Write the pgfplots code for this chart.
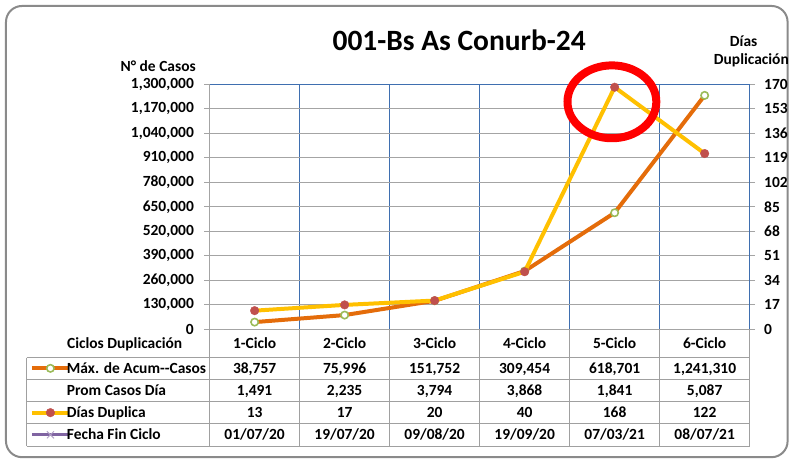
\documentclass[border=0pt]{standalone}
\usepackage{pgfplots}
\pgfplotsset{compat=1.18}
\usepackage{fontspec}
\setmainfont{Carlito}
\definecolor{orangeC}{HTML}{E46C0A}
\definecolor{yellowC}{HTML}{FFC000}
\definecolor{redC}{HTML}{C0504D}
\definecolor{greenC}{HTML}{9BBB59}
\definecolor{purpleC}{HTML}{8064A2}
\definecolor{lpurple}{HTML}{B3A2C7}
\definecolor{gridgray}{HTML}{A4A4A4}
\definecolor{gridblue}{HTML}{3F6FB0}
\definecolor{tablegray}{HTML}{A0A0A0}
\definecolor{framegray}{HTML}{8A8A8A}
\newcommand{\tf}{\bfseries\fontsize{15.5bp}{18bp}\selectfont}
\newcommand{\cellt}[3]{\node[anchor=base, inner sep=0pt, font=\tf] at ({210+90.1667*(#1-0.5)},#2) {#3};}
\begin{document}
\begin{tikzpicture}
\begin{scope}[x=1bp,y=1bp]
\useasboundingbox (0,0) rectangle (791,460);
\draw[framegray, line width=2bp, rounded corners=16bp] (6,2) rectangle (789,454);
\end{scope}

\begin{axis}[
  at={(210bp,130bp)}, anchor=south west,
  scale only axis, width=541bp, height=245.5bp,
  xmin=0.5, xmax=6.5, ymin=0, ymax=1300000,
  clip=false,
  axis line style={draw=none},
  xtick={1.5,2.5,3.5,4.5,5.5}, xticklabels={}, xmajorgrids,
  x grid style={color=gridblue, line width=1.1bp},
  xtick style={draw=none},
  ytick={0,130000,260000,390000,520000,650000,780000,910000,1040000,1170000,1300000},
  ymajorgrids,
  y grid style={color=gridgray, line width=1.1bp},
  ytick pos=left, tick align=outside, major tick length=5.5bp,
  ytick style={color=gridgray, line width=1.1bp},
  scaled y ticks=false,
  /pgf/number format/.cd, fixed, 1000 sep={,}, assume math mode=true, /pgfplots/.cd,
  yticklabel style={font=\tf, xshift=-6.8bp},
  after end axis/.code={
    \draw[gridblue, line width=1.1bp] (rel axis cs:0,1) -- (rel axis cs:1,1) -- (rel axis cs:1,0);
    \draw[gridgray, line width=1.1bp] (rel axis cs:0,0) -- (rel axis cs:0,1);
  },
]
\addplot[color=orangeC, line width=4bp, line join=round, mark=*, mark size=3.7bp,
  mark options={fill=white, draw=greenC, line width=1.6bp}]
  coordinates {(1,38757) (2,75996) (3,151752) (4,309454) (5,618701) (6,1241310)};
\end{axis}

\begin{axis}[
  at={(210bp,130bp)}, anchor=south west,
  scale only axis, width=541bp, height=245.5bp,
  xmin=0.5, xmax=6.5, ymin=0, ymax=170,
  clip=false,
  axis line style={draw=none},
  hide x axis,
  ytick={0,17,...,170},
  ytick pos=right, yticklabel pos=right, tick align=outside, major tick length=5.5bp,
  ytick style={color=gridgray, line width=1.1bp},
  /pgf/number format/assume math mode=true,
  yticklabel style={font=\tf, xshift=5.5bp},
  legend image code/.code={\draw[mark repeat=2,mark phase=2,#1] plot coordinates {(0bp,5bp) (18.5bp,5bp) (37bp,5bp)};},
  legend style={at={(axis description cs:-0.33272,-0.13442)}, anchor=north west, draw=none, fill=none,
    inner sep=0pt, outer sep=0pt, row sep=0pt, column sep=-4bp, font=\tf,
    nodes={inner sep=0pt, text height=11bp, text depth=11.2bp, anchor=base west}},
]
\addlegendimage{color=orangeC, line width=4bp, mark=*, mark size=3.7bp, mark options={fill=white, draw=greenC, line width=1.6bp}}
\addlegendentry{Máx. de Acum-{}-Casos}
\addlegendimage{empty legend}
\addlegendentry{Prom Casos Día}
\addplot[color=yellowC, line width=4bp, line join=round, mark=*, mark size=4.3bp,
  mark options={fill=redC, draw=redC, line width=0.4bp}]
  coordinates {(1,13) (2,17) (3,20) (4,40) (5,168) (6,122)};
\addlegendentry{Días Duplica}
\addlegendimage{color=purpleC, line width=3bp, mark=x, mark size=5bp, mark options={color=lpurple, line width=1bp}}
\addlegendentry{Fecha Fin Ciclo}
\end{axis}

\begin{scope}[x=1bp,y=1bp]
\draw[red, line width=8bp] (613,358) ellipse [x radius=44.5, y radius=36.5];
\node[anchor=base, inner sep=0pt, font=\bfseries\fontsize{29.5bp}{34bp}\selectfont] at (460,409.3) {001-Bs As Conurb-24};
\node[anchor=base, inner sep=0pt, font=\tf] at (158.5,388.3) {N° de Casos};
\node[anchor=base, inner sep=0pt, font=\tf] at (745,413.3) {Días};
\node[anchor=base west, inner sep=0pt, font=\tf] at (715,395) {Duplicación};
% table lines
\begin{scope}[tablegray, line width=1bp]
\foreach \yy in {101.7,80,57.7,35.7,12.7} \draw (26.7,\yy) -- (751,\yy);
\draw (26.7,101.7) -- (26.7,12.7);
\foreach \xx in {210,300.17,390.33,480.5,570.67,660.83,751} \draw (\xx,130) -- (\xx,12.7);
\end{scope}
\node[anchor=base west, inner sep=0pt, font=\tf] at (67,111) {Ciclos Duplicación};
\cellt{1}{111}{1-Ciclo}\cellt{2}{111}{2-Ciclo}\cellt{3}{111}{3-Ciclo}
\cellt{4}{111}{4-Ciclo}\cellt{5}{111}{5-Ciclo}\cellt{6}{111}{6-Ciclo}
\cellt{1}{86}{38,757}\cellt{2}{86}{75,996}\cellt{3}{86}{151,752}
\cellt{4}{86}{309,454}\cellt{5}{86}{618,701}\cellt{6}{86}{1,241,310}
\cellt{1}{64}{1,491}\cellt{2}{64}{2,235}\cellt{3}{64}{3,794}
\cellt{4}{64}{3,868}\cellt{5}{64}{1,841}\cellt{6}{64}{5,087}
\cellt{1}{41.7}{13}\cellt{2}{41.7}{17}\cellt{3}{41.7}{20}
\cellt{4}{41.7}{40}\cellt{5}{41.7}{168}\cellt{6}{41.7}{122}
\cellt{1}{19.5}{01/07/20}\cellt{2}{19.5}{19/07/20}\cellt{3}{19.5}{09/08/20}
\cellt{4}{19.5}{19/09/20}\cellt{5}{19.5}{07/03/21}\cellt{6}{19.5}{08/07/21}
\end{scope}
\end{tikzpicture}
\end{document}
